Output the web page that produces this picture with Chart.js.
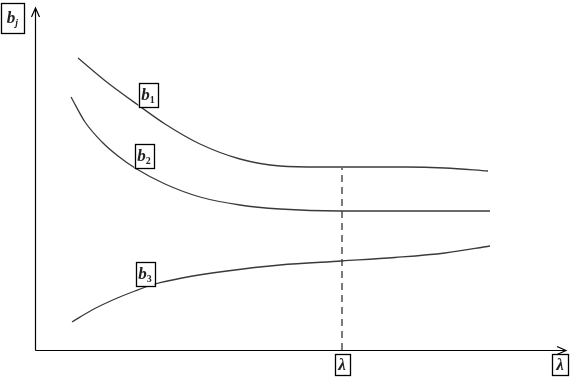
<!DOCTYPE html>
<html>
<head>
<meta charset="utf-8">
<script src="https://cdn.jsdelivr.net/npm/chart.js@4"></script>
<style>
 body{margin:0;background:#fff;}
 #wrap{width:570px;height:377px;}
</style>
</head>
<body>
<div id="wrap"><canvas id="c"></canvas></div>
<script>
// curve values (x = lambda, y = b)
const b1X=[43,73,103,130,165,205,245,285,330,370,410,453];
const b1Y=[292,267,245,226,206,191,184,183,183,183,182,179];

const b2X=[36,50,67,83,100,130,165,205,245,305,455];
const b2Y=[253,228,208,194,182,166,153,145,141,139,139];

const b3X=[37,57,80,100,120,147,192,245,307,360,410,455];
const b3Y=[28,40,51,59,66,72,79,85,89,92.5,97,104];

const lamX=[307,307];
const lamY=[0,182];

// label anchors (data coords) for the boxed letters on the curves
const curveLabels=[
 {x:113,y:255,sub:"1"},
 {x:109,y:194,sub:"2"},
 {x:110,y:76,sub:"3"}
];

const XMAX=531, YMAX=342;

function pts(xs,ys){ return xs.map((x,i)=>({x:x,y:ys[i]})); }

function boxLabel(ctx,cx,cy,w,h,main,sub,subItalic){
 ctx.save();
 ctx.fillStyle="#fff";
 ctx.fillRect(cx-w/2,cy-h/2,w,h);
 ctx.strokeStyle="#000";
 ctx.lineWidth=1.3;
 ctx.strokeRect(Math.round(cx-w/2)+.5,Math.round(cy-h/2)+.5,w,h);
 ctx.fillStyle="#222";
 ctx.textBaseline="alphabetic";
 const subFont=(subItalic?"bold italic ":"bold ")+"10px 'Liberation Serif'";
 ctx.font="bold italic 17px 'Liberation Serif'";
 let mw=ctx.measureText(main).width;
 let sw=0;
 if(sub){
   ctx.font=subFont;
   sw=ctx.measureText(sub).width;
 }
 let x0=cx-(mw+sw)/2;
 ctx.font="bold italic 17px 'Liberation Serif'";
 ctx.fillText(main,x0,cy+5);
 if(sub){
   ctx.font=subFont;
   ctx.fillText(sub,x0+mw,cy+8);
 }
 ctx.restore();
}

const decor={
 id:"decor",
 afterDatasetsDraw(chart){
   const ctx=chart.ctx;
   const xs=chart.scales.x, ys=chart.scales.y;
   const ox=Math.round(xs.getPixelForValue(0))+.5;
   const oy=Math.round(ys.getPixelForValue(0))+.5;
   const xe=xs.getPixelForValue(XMAX);
   const ye=ys.getPixelForValue(YMAX);

   ctx.save();
   ctx.strokeStyle="#000";
   ctx.lineWidth=1.2;
   ctx.beginPath();
   ctx.moveTo(ox,oy); ctx.lineTo(ox,ye);
   ctx.moveTo(ox-4,ye+9); ctx.lineTo(ox,ye); ctx.lineTo(ox+4,ye+9);
   ctx.moveTo(ox,oy); ctx.lineTo(xe,oy);
   ctx.moveTo(xe-9,oy-4); ctx.lineTo(xe,oy); ctx.lineTo(xe-9,oy+4);
   ctx.stroke();
   ctx.restore();

   curveLabels.forEach(l=>{
     boxLabel(ctx,xs.getPixelForValue(l.x),ys.getPixelForValue(l.y),19,24,"b",l.sub,false);
   });

   boxLabel(ctx,12.5,18,23,30,"b","j",true);
   boxLabel(ctx,xs.getPixelForValue(lamX[0]),oy+14,15,21,"λ","",false);
   boxLabel(ctx,560,oy+14,16,21,"λ","",false);
 }
};

const lineStyle={
 borderColor:"#3a3a3a",
 borderWidth:1.3,
 pointRadius:0,
 fill:false,
 cubicInterpolationMode:"monotone"
};

new Chart(document.getElementById("c"),{
 type:"line",
 data:{
   datasets:[
     Object.assign({label:"b1",data:pts(b1X,b1Y)},lineStyle),
     Object.assign({label:"b2",data:pts(b2X,b2Y)},lineStyle),
     Object.assign({label:"b3",data:pts(b3X,b3Y)},lineStyle),
     {label:"lambda",data:pts(lamX,lamY),borderColor:"#222",borderWidth:1.2,
      borderDash:[7,5],pointRadius:0,fill:false}
   ]
 },
 options:{
   responsive:true,
   maintainAspectRatio:false,
   animation:false,
   layout:{padding:{left:35,right:4,top:8,bottom:27}},
   plugins:{legend:{display:false},tooltip:{enabled:false}},
   scales:{
     x:{type:"linear",min:0,max:XMAX,display:false},
     y:{type:"linear",min:0,max:YMAX,display:false}
   }
 },
 plugins:[decor]
});
</script>
</body>
</html>
